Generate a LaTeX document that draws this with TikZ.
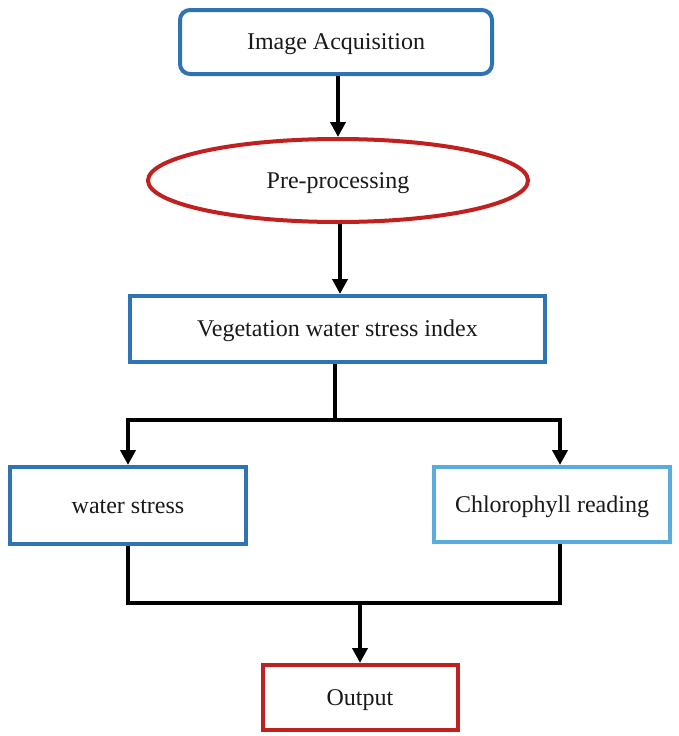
\documentclass[tikz,border=0pt]{standalone}
\usepackage{fontspec}
\setmainfont{Liberation Serif}
\usetikzlibrary{arrows.meta,shapes.geometric}
\definecolor{bblue}{RGB}{46,116,181}
\definecolor{lblue}{RGB}{91,172,222}
\definecolor{bred}{RGB}{192,32,30}
\definecolor{txt}{RGB}{25,25,25}
\begin{document}
\begin{tikzpicture}[x=1pt,y=-1pt,
  box/.style={draw=bblue,line width=4pt,fill=white,text=txt,font=\fontsize{24}{28}\selectfont,inner sep=0pt,text height=16pt,text depth=1pt},
  conn/.style={line width=4pt,black},
  arr/.style={conn,-{Triangle[length=15pt,width=15pt]}}]
\useasboundingbox[fill=white] (0,0) rectangle (678,736);
\node[box,rounded corners=10pt,minimum width=312pt,minimum height=64pt] (acq) at (336,42) {Image Acquisition};
\node[box,ellipse,draw=bred,minimum width=380pt,minimum height=83pt] (pre) at (338,180.5) {Pre-processing};
\node[box,minimum width=415pt,minimum height=66pt] (veg) at (337.5,329) {Vegetation water stress index};
\node[box,minimum width=236pt,minimum height=77pt] (ws) at (128,505.5) {water stress};
\node[box,draw=lblue,minimum width=236pt,minimum height=75pt] (chl) at (552,504.5) {Chlorophyll reading};
\node[box,draw=bred,minimum width=195pt,minimum height=65pt] (out) at (360,697.5) {Output};
\coordinate (j1) at (335,420);
\coordinate (j2) at (360,603);
\draw[arr] (acq.south -| 338,0) -- (pre.north -| 338,0);
\draw[arr] (pre.south -| 340,0) -- (veg.north -| 340,0);
\draw[conn] (veg.south -| j1) -- (j1);
\draw[arr] (j1) -| (ws.north);
\draw[arr] (j1) -| ([xshift=8pt]chl.north);
\draw[conn] (ws.south) |- (j2) -| ([xshift=8pt]chl.south);
\draw[arr] (j2) -- (out.north);
\end{tikzpicture}
\end{document}
